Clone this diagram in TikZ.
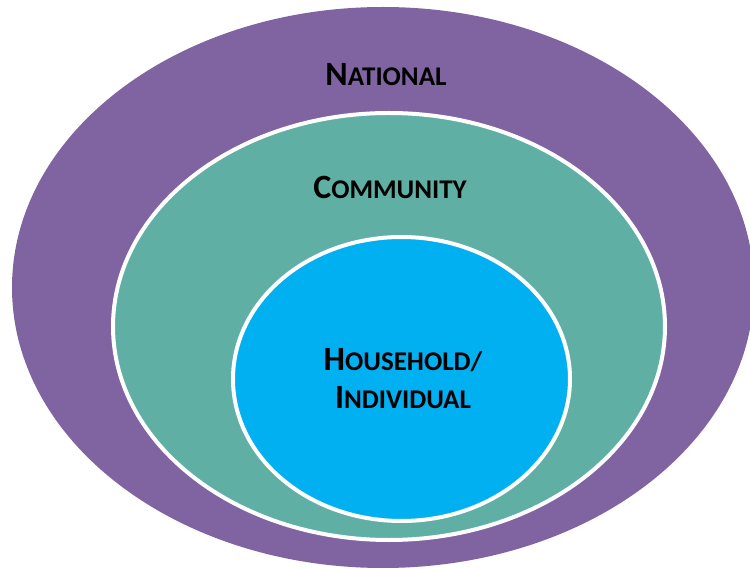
\documentclass[tikz,border=0pt]{standalone}
\usepackage{fontspec}
\setmainfont{Carlito}
\definecolor{natpurple}{HTML}{8064A2}
\definecolor{comteal}{HTML}{5FAFA5}
\definecolor{hhblue}{HTML}{00B0F0}
\newcommand{\bigsc}[2]{#1{\fontsize{27}{30}\selectfont #2}}
\begin{document}
\begin{tikzpicture}[x=1pt,y=-1pt]
\tikzstyle{ring}=[draw=white, line width=4pt]
\tikzstyle{label}=[font=\fontsize{34}{36}\selectfont\bfseries, text=black, align=center, inner sep=0pt]

\useasboundingbox (0,0) rectangle (750,569);

% Define levels
\fill[natpurple] (383,287.5) ellipse [x radius=371, y radius=280.5];
\draw[ring, fill=comteal] (389,326.5) ellipse [x radius=276, y radius=213.5];
\draw[ring, fill=hhblue] (401.5,379) ellipse [x radius=168.5, y radius=142];

% Labels
\node[label] (national) at (386,75) {\bigsc{N}{ATIONAL}};
\node[label] (community) at (390,187) {\bigsc{C}{OMMUNITY}};
\node[label, text width=220pt] (household) at (403,379) {\bigsc{H}{OUSEHOLD/}\\[2pt]\bigsc{I}{NDIVIDUAL}};
\end{tikzpicture}
\end{document}
